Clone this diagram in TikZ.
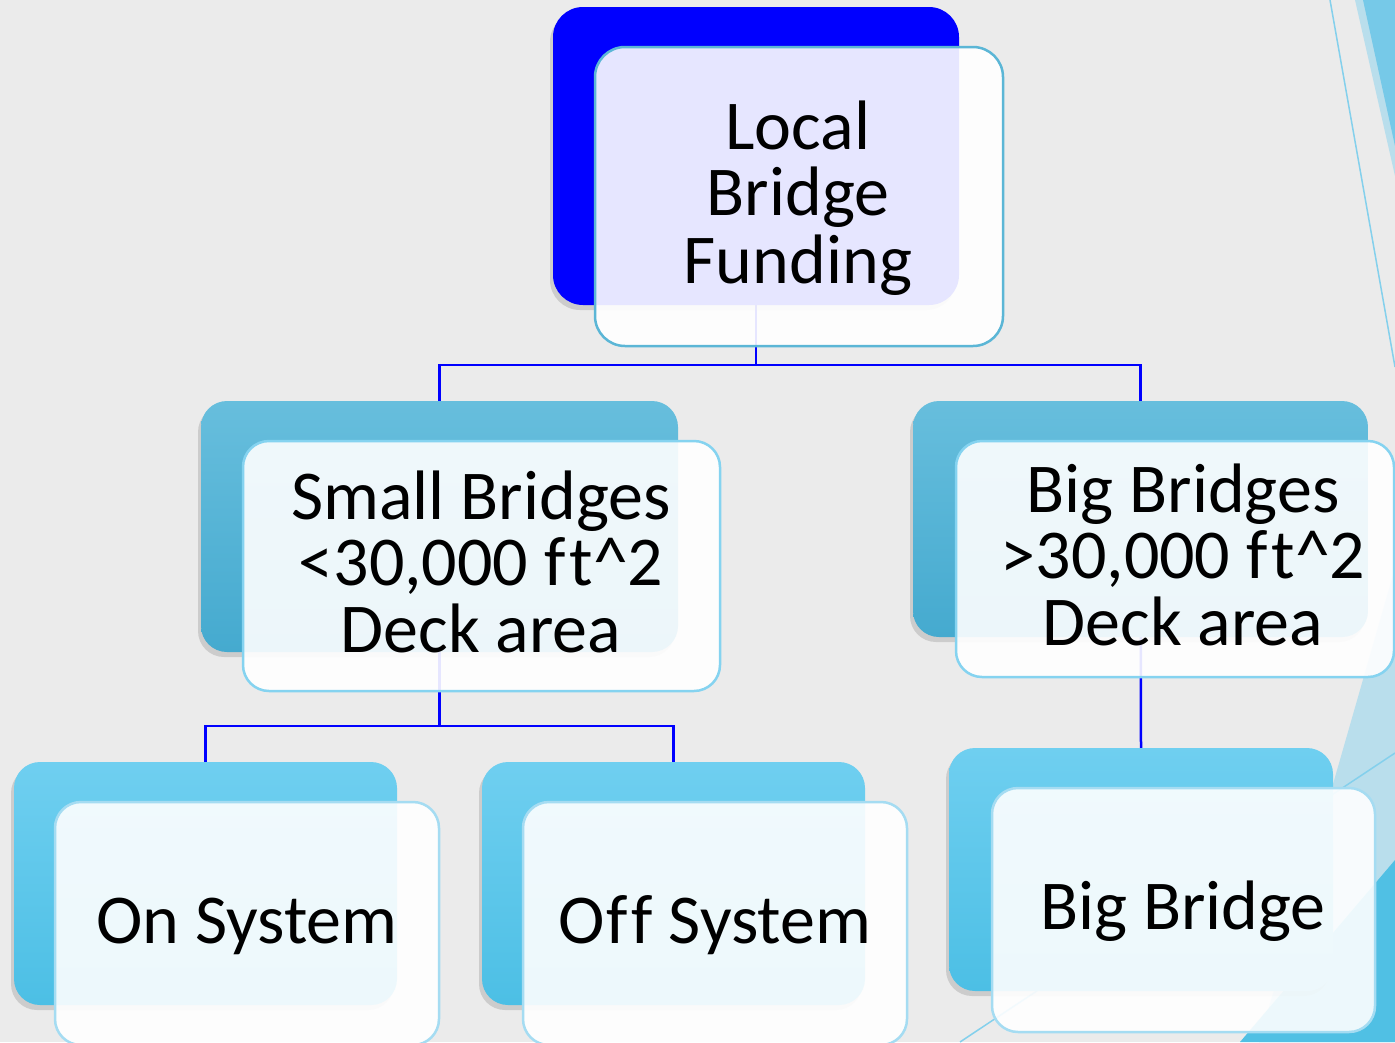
\documentclass[tikz,border=0pt]{standalone}
\usepackage{fontspec}
\setmainfont{Carlito}[Ligatures={NoCommon}]
\usetikzlibrary{shadows}
\pgfdeclarelayer{bg}
\pgfdeclarelayer{conn}
\pgfsetlayers{bg,conn,main}
\definecolor{pagebg}{HTML}{EBEBEB}
\definecolor{rootblue}{HTML}{0000FF}
\definecolor{midtop}{HTML}{67BEDD}
\definecolor{midbot}{HTML}{45AACF}
\definecolor{lowtop}{HTML}{6FCFF0}
\definecolor{lowbot}{HTML}{4CBFE5}
\definecolor{rootedge}{HTML}{5BB6D6}
\definecolor{midedge}{HTML}{85D3F0}
\definecolor{lowedge}{HTML}{A5DCF2}
\definecolor{decodark}{HTML}{76C9E8}
\definecolor{decopale}{HTML}{B9DEEC}
\definecolor{decodeep}{HTML}{50C0E4}
\definecolor{decoline}{HTML}{84D0EC}
\tikzset{
  box/.style={rectangle, inner sep=0pt, rounded corners=26pt},
  backbox/.style={box, draw=none, drop shadow={shadow xshift=-3pt, shadow yshift=-5pt, opacity=0.13, fill=black}},
  frontbox/.style={box, fill=white, fill opacity=0.9, line width=2.5pt},
  lbl/.style={anchor=base, inner sep=0pt, text=black, font=\fontsize{70}{84}\selectfont},
  link/.style={draw=rootblue, line width=2.5pt}
}
\begin{document}
\begin{tikzpicture}[x=1pt,y=-1pt]
\useasboundingbox (0,0) rectangle (1395,1042);
\begin{pgfonlayer}{bg}
  \fill[pagebg] (0,0) rectangle (1395,1042);
  % top-right decorations
  \fill[decopale] (1355,0) -- (1395,0) -- (1395,176) -- cycle;
  \fill[decodark] (1363,0) -- (1395,0) -- (1395,146) -- cycle;
  \draw[decoline, line width=1.5pt] (1330,0) -- (1395,367);
  % bottom-right decorations
  \fill[decopale] (1393,575) -- (1395,575) -- (1395,1042) -- (1259,1042) -- cycle;
  \fill[decodeep] (1395,860) -- (1395,1042) -- (1240,1042) -- cycle;
  \draw[decoline, line width=1.5pt] (1395,753) -- (960,1042);
\end{pgfonlayer}

% back boxes
\node[backbox, fill=rootblue, minimum width=406pt, minimum height=298pt, rounded corners=30pt] (rootB) at (756,156) {};
\node[backbox, top color=midtop, bottom color=midbot, minimum width=477pt, minimum height=251pt] (smallB) at (439.5,526.5) {};
\node[backbox, top color=midtop, bottom color=midbot, minimum width=455pt, minimum height=236pt] (bigB) at (1140.5,519) {};
\node[backbox, top color=lowtop, bottom color=lowbot, minimum width=383pt, minimum height=243pt] (onB) at (205.5,883.5) {};
\node[backbox, top color=lowtop, bottom color=lowbot, minimum width=383pt, minimum height=243pt] (offB) at (673.5,883.5) {};
\node[backbox, top color=lowtop, bottom color=lowbot, minimum width=384pt, minimum height=243pt] (bbB) at (1141,869.5) {};

% connectors
\begin{pgfonlayer}{conn}
  \draw[link] (rootB.center) -- (rootB.center |- 0,365) -| (smallB.north);
  \draw[link] (rootB.center |- 0,365) -| (bigB.north);
  \draw[link] (smallB.center) -- (smallB.center |- 0,726) -| (onB.north);
  \draw[link] (smallB.center |- 0,726) -| (offB.north);
  \draw[link] (bigB.center) -- (bbB.north);
\end{pgfonlayer}

% front boxes
\node[frontbox, draw=rootedge, minimum width=408pt, minimum height=299pt, rounded corners=30pt] (rootF) at (799,196.5) {};
\node[frontbox, draw=midedge, minimum width=477pt, minimum height=250pt] (smallF) at (481.5,566) {};
\node[frontbox, draw=midedge, minimum width=438pt, minimum height=236pt] (bigF) at (1175,559) {};
\node[frontbox, draw=lowedge, minimum width=384pt, minimum height=243pt] (onF) at (247,923.5) {};
\node[frontbox, draw=lowedge, minimum width=384pt, minimum height=243pt] (offF) at (715,923.5) {};
\node[frontbox, draw=lowedge, minimum width=383pt, minimum height=244pt] (bbF) at (1183.5,910) {};

% labels
\node[lbl] (rootT1) at (798,149) {Local};
\node[lbl] (rootT2) at (798,215) {Bridge};
\node[lbl] (rootT3) at (798,283) {Funding};
\node[lbl] (smallT1) at (481,519) {Small Bridges};
\node[lbl] (smallT2) at (481,585) {<30,000 f\kern4pt t\^{}2};
\node[lbl] (smallT3) at (481,652) {Deck area};
\node[lbl] (bigT1) at (1183,512) {Big Bridges};
\node[lbl] (bigT2) at (1183,578) {>30,000 f\kern4pt t\^{}2};
\node[lbl] (bigT3) at (1183,645) {Deck area};
\node[lbl] (onT) at (247,943) {On System};
\node[lbl] (offT) at (715,943) {O\kern1pt f\kern4pt f System};
\node[lbl] (bbT) at (1183,929) {Big Bridge};
\end{tikzpicture}
\end{document}
